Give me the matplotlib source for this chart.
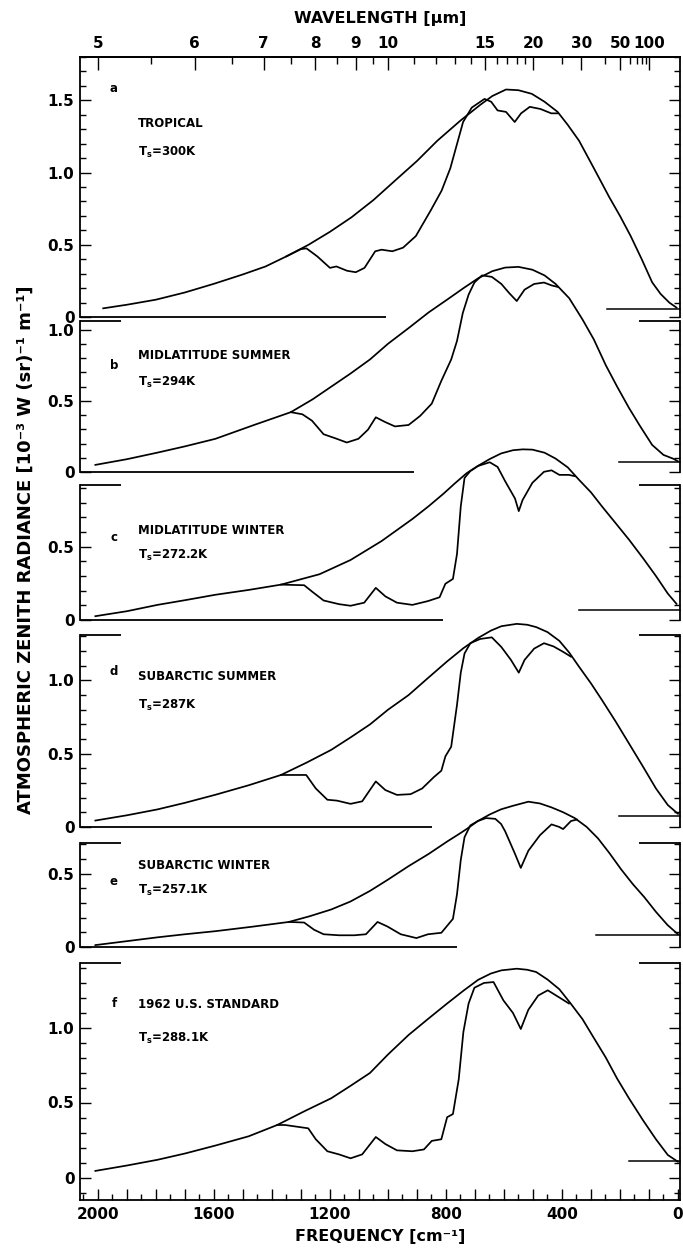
import matplotlib
matplotlib.use("Agg")
import matplotlib.pyplot as plt
from matplotlib.ticker import MultipleLocator, FuncFormatter, NullFormatter

plt.rcParams["font.family"] = ["DejaVu Sans"]
plt.rcParams["font.weight"] = "bold"

# values: frequency [cm-1], radiance [1e-3 W/(sr m)]
# bb = blackbody curve at the surface temperature, rad = computed zenith radiance
a_bb_nu = [1982, 1900, 1800, 1700, 1600, 1500, 1422, 1350, 1274, 1200, 1126, 1050, 978, 900, 830, 750, 681,
           640, 593, 550, 504, 460, 415, 380, 341, 290, 237, 200, 163, 125, 89, 60, 30, 5]
a_bb = [0.06, 0.085, 0.12, 0.17, 0.23, 0.295, 0.35, 0.42, 0.50, 0.59, 0.69, 0.81, 0.94, 1.08, 1.22, 1.36, 1.47,
        1.53, 1.575, 1.57, 1.545, 1.49, 1.42, 1.33, 1.22, 1.03, 0.83, 0.70, 0.56, 0.40, 0.24, 0.16, 0.10, 0.065]
a_rad_nu = [1350, 1300, 1281, 1244, 1200, 1178, 1141, 1111, 1081, 1044, 1022, 985, 948, 904, 852, 815,
            785, 763, 741, 711, 667, 644, 622, 593, 563, 541, 511, 474, 437, 415]
a_rad = [0.42, 0.47, 0.475, 0.42, 0.34, 0.35, 0.32, 0.31, 0.34, 0.455, 0.466, 0.455, 0.48, 0.56, 0.74, 0.875,
         1.03, 1.19, 1.35, 1.45, 1.51, 1.49, 1.43, 1.42, 1.35, 1.41, 1.455, 1.44, 1.41, 1.41]

b_bb_nu = [2009, 1900, 1795, 1700, 1595, 1462, 1335, 1260, 1195, 1130, 1062, 1000, 929, 860, 796, 740,
           689, 640, 596, 550, 502, 460, 422, 375, 329, 290, 249, 210, 169, 130, 89, 50, 16, 0]
b_bb = [0.05, 0.09, 0.136, 0.18, 0.233, 0.33, 0.42, 0.51, 0.60, 0.69, 0.79, 0.90, 1.01, 1.12, 1.21, 1.29,
        1.36, 1.41, 1.435, 1.44, 1.42, 1.38, 1.32, 1.22, 1.07, 0.93, 0.75, 0.60, 0.45, 0.32, 0.19, 0.12, 0.093, 0.075]
b_rad_nu = [1335, 1295, 1262, 1222, 1182, 1142, 1102, 1069, 1042, 1009, 976, 929, 889, 849, 816, 782,
            762, 742, 722, 702, 676, 642, 609, 582, 556, 529, 496, 462, 436, 416]
b_rad = [0.42, 0.405, 0.36, 0.265, 0.237, 0.207, 0.233, 0.297, 0.384, 0.35, 0.32, 0.33, 0.394, 0.48, 0.64, 0.79,
         0.92, 1.116, 1.245, 1.33, 1.38, 1.37, 1.32, 1.256, 1.20, 1.28, 1.32, 1.33, 1.31, 1.30]

c_bb_nu = [2009, 1900, 1795, 1700, 1595, 1480, 1369, 1236, 1129, 1022, 916, 860, 809, 770, 729, 690,
           649, 610, 569, 535, 502, 460, 422, 380, 342, 300, 262, 215, 169, 120, 76, 35, 5]
c_bb = [0.026, 0.06, 0.103, 0.135, 0.172, 0.205, 0.241, 0.312, 0.409, 0.538, 0.688, 0.775, 0.86, 0.93, 1.0, 1.05,
        1.097, 1.135, 1.157, 1.163, 1.161, 1.14, 1.10, 1.04, 0.957, 0.87, 0.774, 0.66, 0.548, 0.42, 0.30, 0.18, 0.11]
c_rad_nu = [1369, 1289, 1262, 1222, 1169, 1129, 1082, 1042, 1009, 969, 916, 862, 822, 802, 776, 762,
            749, 736, 716, 689, 649, 622, 596, 562, 549, 536, 502, 462, 436, 409, 376, 356]
c_rad = [0.241, 0.237, 0.194, 0.133, 0.108, 0.097, 0.118, 0.219, 0.161, 0.118, 0.103, 0.129, 0.155, 0.247, 0.28, 0.45,
         0.774, 0.968, 1.015, 1.05, 1.075, 1.043, 0.946, 0.828, 0.742, 0.817, 0.935, 1.01, 1.02, 0.989, 0.989, 0.98]

d_bb_nu = [2009, 1900, 1795, 1700, 1595, 1480, 1369, 1280, 1196, 1130, 1062, 1000, 929, 860, 796, 740,
           689, 645, 609, 556, 520, 489, 450, 409, 375, 342, 300, 262, 215, 169, 120, 76, 35, 0]
d_bb = [0.044, 0.08, 0.12, 0.165, 0.22, 0.285, 0.355, 0.44, 0.526, 0.61, 0.70, 0.80, 0.90, 1.02, 1.13, 1.22,
        1.29, 1.34, 1.37, 1.386, 1.38, 1.364, 1.33, 1.27, 1.19, 1.096, 0.98, 0.866, 0.72, 0.57, 0.41, 0.263, 0.15, 0.09]
d_rad_nu = [1369, 1282, 1249, 1209, 1176, 1129, 1089, 1042, 1009, 969, 922, 882, 842, 816, 802, 782,
            762, 749, 736, 716, 682, 642, 609, 576, 549, 529, 496, 462, 429, 396, 369]
d_rad = [0.355, 0.355, 0.263, 0.186, 0.18, 0.158, 0.175, 0.311, 0.252, 0.219, 0.224, 0.263, 0.34, 0.384, 0.482, 0.548,
         0.833, 1.053, 1.184, 1.254, 1.283, 1.294, 1.228, 1.14, 1.053, 1.14, 1.217, 1.254, 1.232, 1.195, 1.162]

e_bb_nu = [2009, 1900, 1795, 1700, 1595, 1470, 1342, 1270, 1196, 1130, 1062, 1000, 929, 860, 796, 760,
           729, 690, 649, 610, 569, 516, 476, 436, 396, 356, 315, 276, 236, 196, 156, 116, 76, 36, 0]
e_bb = [0.013, 0.04, 0.066, 0.087, 0.108, 0.138, 0.171, 0.21, 0.256, 0.31, 0.383, 0.46, 0.552, 0.635, 0.72, 0.765,
        0.805, 0.86, 0.905, 0.94, 0.964, 0.992, 0.98, 0.953, 0.92, 0.88, 0.82, 0.742, 0.64, 0.53, 0.43, 0.34, 0.24, 0.15, 0.087]
e_rad_nu = [1342, 1289, 1255, 1222, 1169, 1116, 1076, 1036, 1002, 956, 902, 862, 816, 776, 762, 749,
            736, 716, 690, 662, 630, 610, 596, 562, 542, 516, 476, 436, 410, 396, 369, 349]
e_rad = [0.171, 0.167, 0.118, 0.087, 0.08, 0.08, 0.087, 0.171, 0.14, 0.087, 0.061, 0.087, 0.097, 0.192, 0.36, 0.594,
         0.75, 0.83, 0.86, 0.88, 0.875, 0.84, 0.79, 0.636, 0.54, 0.657, 0.763, 0.837, 0.82, 0.805, 0.86, 0.87]

f_bb_nu = [2009, 1900, 1795, 1700, 1595, 1480, 1382, 1290, 1196, 1130, 1062, 1000, 929, 860, 796, 740,
           689, 645, 609, 556, 520, 489, 450, 409, 370, 329, 290, 249, 210, 169, 120, 76, 35, 0]
f_bb = [0.044, 0.08, 0.118, 0.16, 0.213, 0.275, 0.35, 0.44, 0.528, 0.61, 0.697, 0.82, 0.95, 1.06, 1.16, 1.245,
        1.318, 1.36, 1.381, 1.392, 1.385, 1.37, 1.32, 1.255, 1.16, 1.055, 0.93, 0.80, 0.66, 0.528, 0.38, 0.255, 0.15, 0.105]
f_rad_nu = [1382, 1355, 1315, 1275, 1249, 1209, 1169, 1129, 1089, 1042, 1009, 969, 916, 876, 849, 816,
            796, 776, 756, 740, 722, 702, 669, 636, 602, 569, 542, 516, 482, 449, 409, 376]
f_rad = [0.35, 0.35, 0.339, 0.328, 0.255, 0.175, 0.154, 0.128, 0.154, 0.27, 0.223, 0.181, 0.175, 0.187, 0.244, 0.255,
         0.402, 0.423, 0.655, 0.97, 1.16, 1.265, 1.297, 1.303, 1.181, 1.097, 0.99, 1.118, 1.213, 1.248, 1.20, 1.16]

letters = ["a", "b", "c", "d", "e", "f"]
names = ["TROPICAL", "MIDLATITUDE SUMMER", "MIDLATITUDE WINTER",
         "SUBARCTIC SUMMER", "SUBARCTIC WINTER", "1962 U.S. STANDARD"]
surface_temps = ["300K", "294K", "272.2K", "287K", "257.1K", "288.1K"]

# short baseline pieces left in the scan: left piece ends at nu, right piece (start, level)
base_left_end = [1007, 909, 809, 849, 762, None]
base_right = [(244, 0.057), (202, 0.071), (342, 0.069), (202, 0.077), (282, 0.08), (169, 0.107)]

wl_major = [5, 6, 7, 8, 9, 10, 15, 20, 30, 50, 100]
wl_minor = [5.5, 6.5, 7.5, 8.5, 9.5, 11, 12, 13, 14, 16, 17, 18, 19, 25, 40, 60, 70, 80, 90]

bb_nu = [a_bb_nu, b_bb_nu, c_bb_nu, d_bb_nu, e_bb_nu, f_bb_nu]
bb = [a_bb, b_bb, c_bb, d_bb, e_bb, f_bb]
rad_nu = [a_rad_nu, b_rad_nu, c_rad_nu, d_rad_nu, e_rad_nu, f_rad_nu]
rad = [a_rad, b_rad, c_rad, d_rad, e_rad, f_rad]


def main():
    W, H = 683, 1252
    fig = plt.figure(figsize=(W / 100, H / 100), dpi=100)

    # panel boxes in pixels (top, bottom) and y ranges
    boxes = [(57, 317), (321, 472), (485, 620), (635, 827), (843, 947), (963, 1200)]
    ylims = [(0, 1.80), (0, 1.06), (0, 0.92), (0, 1.31), (0, 0.71), (-0.15, 1.43)]
    label_pos = [(1.58, 1.34, 1.14), (0.75, 0.815, 0.63), (0.56, 0.61, 0.44),
                 (1.06, 1.03, 0.83), (0.45, 0.556, 0.387), (1.16, 1.15, 0.924)]
    x0, x1 = 80, 680
    xlim = (2062, -7)
    lw = 1.25

    yfmt = FuncFormatter(lambda v, p: "0" if abs(v) < 1e-9 else f"{v:.1f}")

    for i in range(6):
        top, bot = boxes[i]
        ax = fig.add_axes([x0 / W, 1 - bot / H, (x1 - x0) / W, (bot - top) / H])
        ax.patch.set_alpha(0)
        ax.set_xlim(xlim)
        ax.set_ylim(ylims[i])

        ax.plot(bb_nu[i], bb[i], color="k", lw=lw, clip_on=False)
        ax.plot(rad_nu[i], rad[i], color="k", lw=lw, clip_on=False)

        for s in ax.spines.values():
            s.set_linewidth(1.3)
        ax.spines["top"].set_visible(i == 0)
        ax.spines["bottom"].set_visible(i == 5)

        ytop = ylims[i][1]
        seg = dict(color="k", lw=1.3, clip_on=False, solid_capstyle="butt")
        if i > 0:
            ax.plot([xlim[0], 1922], [ytop, ytop], **seg)
            ax.plot([136, xlim[1]], [ytop, ytop], **seg)
        if base_left_end[i] is not None:
            ax.plot([xlim[0], base_left_end[i]], [0, 0], **seg)
        r0, lev = base_right[i]
        ax.plot([r0, xlim[1]], [lev, lev], color="k", lw=1.1, clip_on=False)

        ax.yaxis.set_major_locator(MultipleLocator(0.5))
        ax.yaxis.set_minor_locator(MultipleLocator(0.1))
        ax.yaxis.set_major_formatter(yfmt)
        ax.tick_params(axis="y", which="both", direction="in", left=True, right=True,
                       labelsize=11, pad=4, width=1.0)
        ax.tick_params(axis="y", which="major", length=8)
        ax.tick_params(axis="y", which="minor", length=4)

        if i == 0:
            tx = ax.twiny()
            tx.set_xlim(xlim)
            tx.set_xticks([1e4 / w for w in wl_major])
            tx.set_xticklabels([str(w) for w in wl_major])
            tx.set_xticks([1e4 / w for w in wl_minor], minor=True)
            tx.xaxis.set_minor_formatter(NullFormatter())
            tx.tick_params(axis="x", which="both", direction="in", labelsize=11, pad=4,
                           width=1.0, top=True, bottom=False, labelbottom=False)
            tx.tick_params(axis="x", which="major", length=9)
            tx.tick_params(axis="x", which="minor", length=5)
            for k in ["left", "right", "bottom"]:
                tx.spines[k].set_visible(False)
            tx.spines["top"].set_linewidth(1.3)

        # twiny() switches the x ticks of ax back on, so set them after it
        if i == 5:
            ax.xaxis.set_major_locator(MultipleLocator(100))
            ax.xaxis.set_minor_locator(MultipleLocator(50))
            ax.xaxis.set_major_formatter(
                FuncFormatter(lambda v, p: f"{v:.0f}" if round(v) % 400 == 0 else ""))
            ax.tick_params(axis="x", which="both", direction="in", top=False,
                           labelsize=11, pad=5, width=1.0)
            ax.tick_params(axis="x", which="major", length=8)
            ax.tick_params(axis="x", which="minor", length=4)
        else:
            ax.tick_params(axis="x", which="both", bottom=False, top=False,
                           labelbottom=False, labeltop=False)

        yl, yn, yt = label_pos[i]
        ax.text(1945, yl, letters[i], fontsize=8.5, ha="center", va="center")
        ax.text(1862, yn, names[i], fontsize=8.5, ha="left", va="center")
        ax.text(1862, yt, "T$_\\mathbf{s}$=" + surface_temps[i], fontsize=8.5, ha="left", va="center")

    fam = ["DejaVu Sans"]
    fig.text(380 / W, 1 - 18 / H, "WAVELENGTH [μm]", ha="center", va="center",
             fontsize=11.5, family=fam)
    fig.text(380 / W, 1 - 1236 / H, "FREQUENCY [cm⁻¹]", ha="center", va="center",
             fontsize=11.5, family=fam)
    fig.text(26 / W, 1 - 550 / H, "ATMOSPHERIC ZENITH RADIANCE [10⁻³ W (sr)⁻¹ m⁻¹]",
             rotation=90, ha="center", va="center", fontsize=13, family=fam)

    fig.savefig("out.png", dpi=100)


if __name__ == "__main__":
    main()
